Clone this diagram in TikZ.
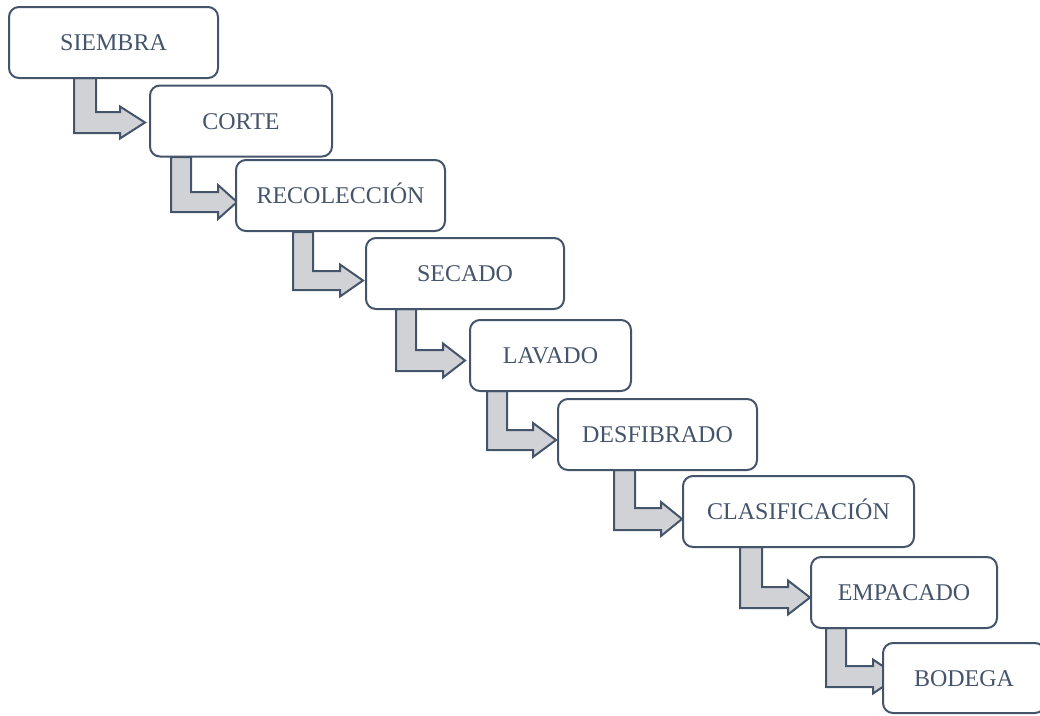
\documentclass[tikz,border=0pt]{standalone}
\usepackage{fontspec}
\setmainfont{Liberation Serif}
\definecolor{slate}{HTML}{44546A}
\definecolor{arrfill}{HTML}{D0D2D6}
\newcommand\bentarr[8]{% sx1 sx2 top hy1 hy2 hb tip hhalf
  \draw[arrshape] (#1,#3) -- (#2,#3) -- (#2,#4) -- (#6,#4) -- (#6,{(#4+#5)/2-#8}) -- (#7,{(#4+#5)/2}) -- (#6,{(#4+#5)/2+#8}) -- (#6,#5) -- (#1,#5) -- cycle;}
\begin{document}
\begin{tikzpicture}[x=1pt,y=-1pt,
  box/.style={draw=slate, line width=2pt, fill=white, rounded corners=10pt, inner sep=0pt,
    minimum height=71pt, text=slate, font=\fontsize{24}{28}\selectfont, text height=16pt, text depth=0pt},
  arrshape/.style={draw=slate, fill=arrfill, line width=2pt, line join=miter}]
\useasboundingbox (0,0) rectangle (1040,715);
% arrows (drawn first, boxes cover their ends)
\bentarr{74}{96}{78}{112}{133}{120}{145}{16}
\bentarr{171}{191}{157}{192}{212}{218}{237}{17}
\bentarr{293}{313}{232}{271}{290}{340}{363}{16}
\bentarr{396}{416}{309}{350}{371}{443}{465}{17}
\bentarr{487}{507}{391}{430}{450}{533}{556}{17}
\bentarr{614}{635}{470}{508}{530}{661}{682}{17}
\bentarr{740}{762}{547}{587}{608}{788}{810}{17}
\bentarr{826}{846}{628}{666}{687}{873}{898}{17}
% boxes
\node[box, minimum width=209pt] (b1) at (113.5,42.5) {SIEMBRA};
\node[box, minimum width=182pt] (b2) at (241,121) {CORTE};
\node[box, minimum width=209pt] (b3) at (340.5,195.5) {RECOLECCIÓN};
\node[box, minimum width=198pt] (b4) at (465,273.5) {SECADO};
\node[box, minimum width=161pt] (b5) at (550.5,355.5) {LAVADO};
\node[box, minimum width=199pt] (b6) at (657.5,434.5) {DESFIBRADO};
\node[box, minimum width=231pt] (b7) at (798.5,511.5) {CLASIFICACIÓN};
\node[box, minimum width=186pt] (b8) at (904,592.5) {EMPACADO};
\node[box, minimum width=162pt, minimum height=70pt] (b9) at (964,678) {BODEGA};
\end{tikzpicture}
\end{document}
